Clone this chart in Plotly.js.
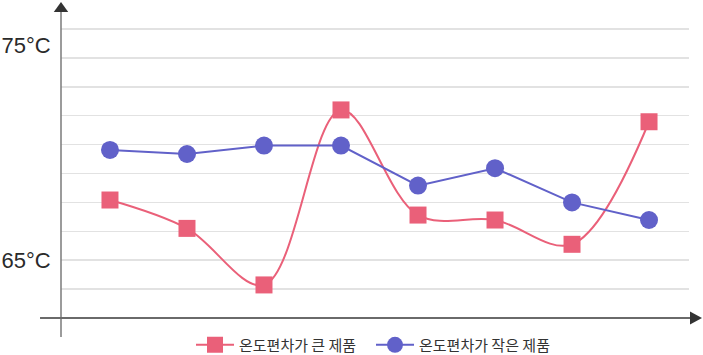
<!DOCTYPE html>
<html>
<head>
<meta charset="utf-8">
<script src="https://cdn.plot.ly/plotly-3.0.1.min.js"></script>
<style>html,body{margin:0;padding:0;background:#fff;}#chart{width:703px;height:355px;}</style>
</head>
<body>
<div id="chart"></div>
<script>
// Data (°C)
const categories = ['1', '2', '3', '4', '5', '6', '7', '8'];
const seriesNames = ['온도편차가 큰 제품', '온도편차가 작은 제품'];
const largeDeviation = [67.79, 66.47, 63.84, 71.98, 67.09, 66.86, 65.73, 71.43];
const smallDeviation = [70.12, 69.93, 70.32, 70.32, 68.46, 69.27, 67.68, 66.86];
const tickValues = [65, 75];
const tickLabels = ['65°C', '75°C'];

const pink = '#EA6079';
const blue = '#6161C9';

const traces = [
  {
    x: categories, y: largeDeviation, name: seriesNames[0],
    type: 'scatter', mode: 'lines+markers',
    line: {color: pink, width: 2, shape: 'spline', smoothing: 1},
    marker: {symbol: 'square', size: 17, color: pink, line: {width: 0}},
    cliponaxis: false
  },
  {
    x: categories, y: smallDeviation, name: seriesNames[1],
    type: 'scatter', mode: 'lines+markers',
    line: {color: blue, width: 2},
    marker: {symbol: 'circle', size: 18, color: blue, line: {width: 0}},
    cliponaxis: false
  },
  { // carrier for the grid axis
    x: [categories[0]], y: [0], yaxis: 'y2', mode: 'markers',
    marker: {opacity: 0}, showlegend: false, hoverinfo: 'skip'
  }
];

const axisGray = '#6a6a6a';
const arrowColor = '#333333';

const layout = {
  width: 703, height: 355,
  margin: {l: 61, r: 14, t: 10, b: 37, autoexpand: false},
  paper_bgcolor: '#ffffff', plot_bgcolor: 'rgba(0,0,0,0)',
  font: {family: 'Liberation Sans, Arial, sans-serif', color: '#333'},
  showlegend: true,
  legend: {
    orientation: 'h', xref: 'container', yref: 'container',
    x: 0.2717, xanchor: 'left', y: 0.028, yanchor: 'middle',
    entrywidth: 127, entrywidthmode: 'pixels', itemwidth: 38,
    font: {family: 'Noto Sans CJK KR, sans-serif', size: 15, color: '#333'},
    itemclick: false, bgcolor: 'rgba(0,0,0,0)'
  },
  xaxis: {
    type: 'category', range: [-0.636, 7.519],
    showgrid: false, zeroline: false, showline: false,
    showticklabels: false, ticks: ''
  },
  yaxis: {
    range: [62.302, 76.628],
    tickvals: tickValues, ticktext: tickLabels,
    showgrid: false, zeroline: false, showline: false,
    ticks: 'outside', ticklen: 5, tickcolor: 'rgba(0,0,0,0)',
    tickfont: {family: 'Liberation Sans, Arial, sans-serif', size: 22, color: '#2a2a2a'}
  },
  yaxis2: {
    overlaying: 'y', range: [0, 10.657], tick0: 0, dtick: 1,
    showgrid: true, gridcolor: '#e2e2e2', gridwidth: 1.5,
    zeroline: false, showline: false, showticklabels: false, ticks: ''
  },
  shapes: [
    // y axis line
    {type: 'line', xref: 'paper', yref: 'paper', x0: 0, x1: 0, y0: -0.0617, y1: 0.995,
     line: {color: '#7a7a7a', width: 1.5}, layer: 'above'},
    // x axis line
    {type: 'line', xref: 'paper', yref: 'paper', x0: -0.0334, x1: 1.002, y0: 0, y1: 0,
     line: {color: axisGray, width: 2}, layer: 'above'},
    // y arrow head
    {type: 'path', xref: 'paper', yref: 'paper',
     path: 'M -0.0115 0.9935 L 0.0115 0.9935 L 0 1.026 Z',
     fillcolor: arrowColor, line: {color: arrowColor, width: 0}, layer: 'above'},
    // x arrow head
    {type: 'path', xref: 'paper', yref: 'paper',
     path: 'M 1.0016 0.0215 L 1.0016 -0.0215 L 1.0207 0 Z',
     fillcolor: arrowColor, line: {color: arrowColor, width: 0}, layer: 'above'}
  ]
};

Plotly.newPlot('chart', traces, layout, {displayModeBar: false, staticPlot: true});
</script>
</body>
</html>
